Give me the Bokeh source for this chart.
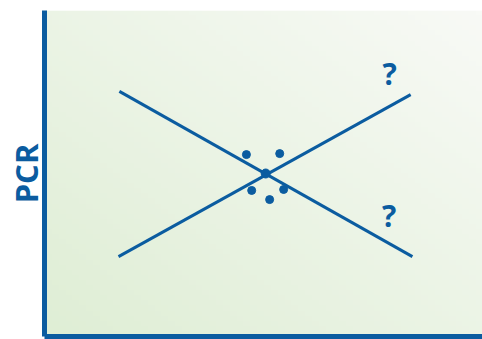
import numpy as np
from bokeh.plotting import figure
from bokeh.models import Range1d, ColumnDataSource
from bokeh.core.properties import value
from bokeh.embed import file_html
from bokeh.resources import INLINE

# Data (schematic)
line_a_x = [17.1, 84.0]
line_a_y = [75.2, 24.5]
line_b_x = [16.9, 83.6]
line_b_y = [24.5, 74.2]
dots_x = [46.1, 53.7, 47.3, 54.6, 51.4]
dots_y = [55.8, 56.1, 44.8, 45.1, 42.0]
center_x = [50.5]
center_y = [50.0]
q_x = [78.8, 78.7]
q_y = [80.7, 37.1]
q_text = ["?", "?"]
y_label = "PCR"

BLUE = "#0b5ca0"

p = figure(width=482, height=339, output_backend="svg", toolbar_location=None,
           x_range=Range1d(0, 100), y_range=Range1d(0, 100),
           min_border_left=44, min_border_right=0, min_border_top=10, min_border_bottom=3)
p.outline_line_color = None
p.grid.visible = False
p.background_fill_color = "white"
p.border_fill_color = "white"

# background gradient (style)
n = 64
gx, gy = np.meshgrid(np.linspace(0, 1, n), np.linspace(0, 1, n))
t = np.clip((gx + gy) / 2.0, 0, 1)
c0 = np.array([0xdf, 0xee, 0xd5])
c1 = np.array([0xf8, 0xfa, 0xf6])
img = np.zeros((n, n), dtype=np.uint32)
view = img.view(dtype=np.uint8).reshape((n, n, 4))
for k in range(3):
    view[:, :, k] = (c0[k] + (c1[k] - c0[k]) * t).astype(np.uint8)
view[:, :, 3] = 255
p.image_rgba(image=[img], x=0, y=0, dw=100, dh=100)

for ax in (p.xaxis, p.yaxis):
    ax.axis_line_color = BLUE
    ax.axis_line_width = 5
    ax.major_tick_line_color = None
    ax.minor_tick_line_color = None
    ax.major_tick_out = 0
    ax.minor_tick_out = 0
    ax.major_label_standoff = 0
    ax.major_label_text_font_size = "0px"
    ax.major_label_text_color = None

p.yaxis.axis_label = y_label
p.yaxis.axis_label_text_font = "Open Sans"
p.yaxis.axis_label_text_font_style = "bold"
p.yaxis.axis_label_text_font_size = "31px"
p.yaxis.axis_label_text_color = BLUE
p.yaxis.axis_label_standoff = -2

p.line(line_a_x, line_a_y, line_color=BLUE, line_width=3)
p.line(line_b_x, line_b_y, line_color=BLUE, line_width=3)
p.scatter(dots_x, dots_y, size=8, color=BLUE)
p.scatter(center_x, center_y, size=9, color=BLUE)

src = ColumnDataSource(dict(x=q_x, y=q_y, t=q_text))
p.text(x="x", y="y", text="t", source=src, text_font=value("Open Sans"),
       text_font_style="bold", text_font_size="30px", text_color=BLUE,
       text_align="center", text_baseline="middle")

open("out.html", "w").write(file_html(p, INLINE))
